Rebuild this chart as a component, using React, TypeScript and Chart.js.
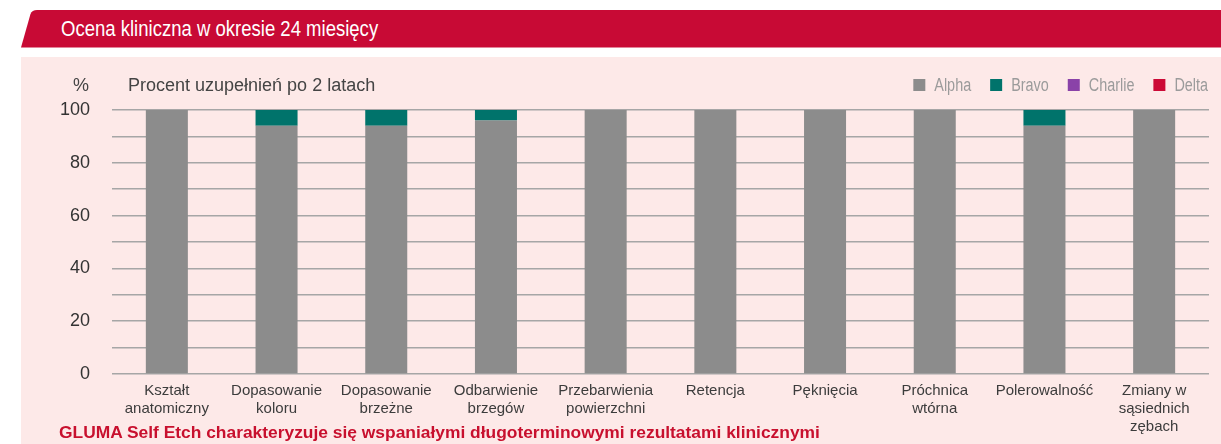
import React, { useEffect, useRef } from "react";
import { Chart, registerables } from "chart.js";

Chart.register(...registerables);

const categories: string[][] = [
  ["Kształt", "anatomiczny"],
  ["Dopasowanie", "koloru"],
  ["Dopasowanie", "brzeżne"],
  ["Odbarwienie", "brzegów"],
  ["Przebarwienia", "powierzchni"],
  ["Retencja"],
  ["Pęknięcia"],
  ["Próchnica", "wtórna"],
  ["Polerowalność"],
  ["Zmiany w", "sąsiednich", "zębach"],
];
const alpha = [100, 94, 94, 96, 100, 100, 100, 100, 94, 100];
const bravo = [0, 6, 6, 4, 0, 0, 0, 0, 6, 0];
const charlie = [0, 0, 0, 0, 0, 0, 0, 0, 0, 0];
const delta = [0, 0, 0, 0, 0, 0, 0, 0, 0, 0];
const seriesNames = ["Alpha", "Bravo", "Charlie", "Delta"];
const seriesColors = ["#8c8c8c", "#00736b", "#8a42a8", "#cc0a36"];
const yMin = 0;
const yMax = 100;
const yStep = 10;
const yLabelEvery = 20;

const titleText = "Ocena kliniczna w okresie 24 miesięcy";
const subtitleText = "Procent uzupełnień po 2 latach";
const unitText = "%";
const footerText =
  "GLUMA Self Etch charakteryzuje się wspaniałymi długoterminowymi rezultatami klinicznymi";

const SANS = '"Liberation Sans", Arial, sans-serif';
const NARROW_SCALE = 0.82;
const LEGEND_SCALE = 0.8;

const legendPlugin = {
  id: "rightLegend",
  afterDraw(chart: any) {
    const ctx = chart.ctx;
    ctx.save();
    ctx.font = "18px " + SANS;
    ctx.textBaseline = "middle";
    const y = 28;
    let x = chart.chartArea.right - 1;
    const dsList = chart.data.datasets.slice().reverse();
    for (const ds of dsList) {
      const w = ctx.measureText(ds.label).width * LEGEND_SCALE;
      x -= w;
      ctx.save();
      ctx.translate(x, y + 1);
      ctx.scale(LEGEND_SCALE, 1);
      ctx.fillStyle = "#9b9b9b";
      ctx.fillText(ds.label, 0, 0);
      ctx.restore();
      x -= 9 + 12;
      ctx.fillStyle = ds.backgroundColor;
      ctx.fillRect(x, y - 6, 12, 12);
      x -= 19;
    }
    ctx.restore();
  },
};

function ChartCanvas() {
  const ref = useRef<HTMLCanvasElement | null>(null);
  useEffect(() => {
    if (!ref.current) return;
    const values = [alpha, bravo, charlie, delta];
    const chart = new Chart(ref.current, {
      type: "bar",
      data: {
        labels: categories,
        datasets: seriesNames.map((name, i) => ({
          label: name,
          data: values[i],
          backgroundColor: seriesColors[i],
          borderWidth: 0,
          categoryPercentage: 1,
          barPercentage: 0.383,
        })),
      },
      options: {
        animation: false,
        responsive: true,
        maintainAspectRatio: false,
        layout: { padding: { top: 53, right: 12, left: 0, bottom: 0 } },
        plugins: {
          legend: { display: false },
          tooltip: { enabled: false },
        },
        scales: {
          x: {
            stacked: true,
            grid: { display: false },
            border: { display: false },
            ticks: {
              color: "#3c3c3c",
              font: { family: SANS, size: 15 },
              maxRotation: 0,
              minRotation: 0,
              autoSkip: false,
              padding: 0,
            },
            afterFit: (s: any) => {
              s.height = 70;
            },
          },
          y: {
            stacked: true,
            min: yMin,
            max: yMax,
            grid: { color: "#a6a6a6", lineWidth: 1.5, drawTicks: false },
            border: { display: false },
            ticks: {
              stepSize: yStep,
              color: "#333333",
              font: { family: SANS, size: 18 },
              padding: 22,
              callback: (v: any) => (Number(v) % yLabelEvery === 0 ? String(v) : ""),
            },
            afterFit: (s: any) => {
              s.width = 91;
            },
          },
        },
      },
      plugins: [legendPlugin],
    } as any);
    return () => chart.destroy();
  }, []);
  return <canvas ref={ref} />;
}

export default function App() {
  return (
    <div style={{ position: "absolute", left: 0, top: 0, width: 1221, height: 444, background: "#ffffff", overflow: "hidden" }}>
      <svg width={1221} height={50} style={{ position: "absolute", left: 0, top: 0 }}>
        <path d="M21,47.5 L30.5,14 Q32,10 37,10 L1221,10 L1221,47.5 Z" fill="#c80a35" />
      </svg>
      <div
        style={{
          position: "absolute",
          left: 61,
          top: 10,
          height: 37,
          fontFamily: SANS,
          fontSize: "22.6px",
          lineHeight: "38px",
          color: "#ffffff",
          whiteSpace: "nowrap",
          transform: `scaleX(${NARROW_SCALE})`,
          transformOrigin: "0 0",
        }}
      >
        {titleText}
      </div>
      <div style={{ position: "absolute", left: 21, top: 57, width: 1200, height: 387, background: "#fde9e8" }}>
        <div style={{ position: "absolute", left: 0, top: 0, width: 1200, height: 387 }}>
          <ChartCanvas />
        </div>
        <div style={{ position: "absolute", left: 52, top: 17, fontFamily: SANS, fontSize: 18, color: "#444", lineHeight: "22px", whiteSpace: "nowrap" }}>
          {unitText}
        </div>
        <div style={{ position: "absolute", left: 107, top: 17, fontFamily: SANS, fontSize: 18, color: "#444", lineHeight: "22px", whiteSpace: "nowrap" }}>
          {subtitleText}
        </div>
        <div style={{ position: "absolute", left: 38, top: 365, fontFamily: SANS, fontWeight: "bold", fontSize: "17.4px", color: "#c8102e", lineHeight: "20px", whiteSpace: "nowrap" }}>
          {footerText}
        </div>
      </div>
    </div>
  );
}
